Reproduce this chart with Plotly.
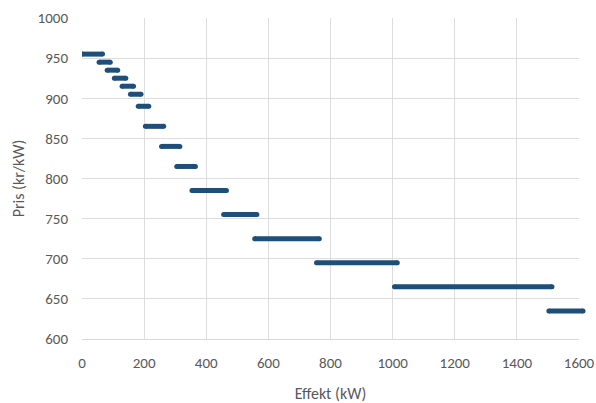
import plotly.graph_objects as go

# Price steps: each band has a start power, end power (kW) and price (kr/kW)
band_start = [0, 55, 81, 104, 129, 156, 181, 204, 256, 305, 354, 456, 556, 755, 1006, 1503]
band_end = [66, 91, 115, 141, 166, 190, 215, 263, 315, 365, 465, 563, 764, 1015, 1513, 1613]
band_price = [955, 945, 935, 925, 915, 905, 890, 865, 840, 815, 785, 755, 725, 695, 665, 635]

x_ticks = [0, 200, 400, 600, 800, 1000, 1200, 1400, 1600]
y_ticks = [600, 650, 700, 750, 800, 850, 900, 950, 1000]

W, H = 596, 403
ML, MR, MT, MB = 82, 7, 18, 64
plot_w = W - ML - MR
grid_w = 497  # width of the gridded area (0..1600)
dom_end = grid_w / plot_w
x_max = 1600
x2_max = x_max * plot_w / grid_w

color = "#1F4E79"
font_family = "Carlito, Lato, 'Open Sans', sans-serif"
grey = "#595959"

fig = go.Figure()
# invisible trace so the gridded main axes are drawn
fig.add_trace(go.Scatter(
    x=x_ticks[:1], y=y_ticks[:1], mode="markers",
    marker=dict(opacity=0), xaxis="x", yaxis="y",
    showlegend=False, hoverinfo="skip",
))
for s, e, p in zip(band_start, band_end, band_price):
    fig.add_trace(go.Scatter(
        x=[s, e], y=[p, p], mode="lines+markers",
        line=dict(color=color, width=5),
        marker=dict(color=color, size=5, line=dict(width=0)),
        xaxis="x2", yaxis="y2", showlegend=False, hoverinfo="skip",
    ))

fig.update_layout(
    width=W, height=H,
    margin=dict(l=ML, r=MR, t=MT, b=MB),
    paper_bgcolor="white", plot_bgcolor="rgba(0,0,0,0)",
    font=dict(family=font_family, color=grey, size=15),
    xaxis=dict(
        domain=[0, dom_end], range=[0, x_max], tickvals=x_ticks,
        showgrid=True, gridcolor="#DDDDDD", gridwidth=1,
        showline=True, linecolor="#D9D9D9", linewidth=1,
        zeroline=False, ticks="", ticklabelstandoff=10,
        tickfont=dict(size=15, color=grey),
        title=dict(text="Effekt (kW)", font=dict(size=16, color=grey), standoff=16),
        automargin=False, anchor="y",
    ),
    yaxis=dict(
        domain=[0, 1], range=[600, 1000], tickvals=y_ticks,
        showgrid=True, gridcolor="#DDDDDD", gridwidth=1,
        zeroline=False, ticks="", ticklabelstandoff=13,
        tickfont=dict(size=15, color=grey),
        title=dict(text="Pris (kr/kW)", font=dict(size=16, color=grey), standoff=8),
        automargin=False, anchor="x",
    ),
    xaxis2=dict(domain=[0, 1], range=[0, x2_max], anchor="y2", visible=False, showgrid=False),
    yaxis2=dict(domain=[0, 1], range=[600, 1000], anchor="x2", visible=False, showgrid=False),
)

fig.write_html("out.html", config={"displayModeBar": False},
               post_script="document.body.style.margin='0';")
